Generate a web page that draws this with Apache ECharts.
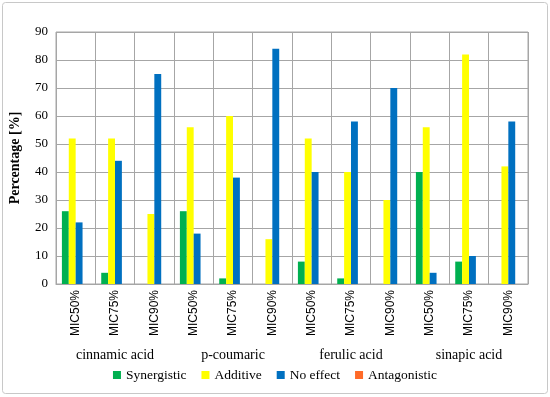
<!DOCTYPE html>
<html><head><meta charset="utf-8">
<script src="https://cdn.jsdelivr.net/npm/echarts@6/dist/echarts.min.js"></script>
<style>html,body{margin:0;padding:0;background:#fff}#c{width:550px;height:397px}</style>
</head><body><div id="c"></div>
<script>
const categories = ['MIC50%','MIC75%','MIC90%','MIC50%','MIC75%','MIC90%','MIC50%','MIC75%','MIC90%','MIC50%','MIC75%','MIC90%'];
const groups = ['cinnamic acid','p-coumaric','ferulic acid','sinapic acid'];
const synergistic = [26,4,0,26,2,0,8,2,0,40,8,0];
const additive = [52,52,25,56,60,16,52,40,30,56,82,42];
const noEffect = [22,44,75,18,38,84,40,58,70,4,10,58];
const antagonistic = [0,0,0,0,0,0,0,0,0,0,0,0];
const yTicks = {min:0,max:90,interval:10};

const serif = '"Liberation Serif","DejaVu Serif",serif';
const sans = '"Liberation Sans",Arial,sans-serif';
const gridColor = '#a6a6a6';
const chart = echarts.init(document.getElementById('c'));
function s(name,data,color){return {name,type:'bar',data,xAxisIndex:0,itemStyle:{color},barGap:'0%',barCategoryGap:'30%'};}
chart.setOption({
  animation:false,
  graphic:[{type:'rect',shape:{x:2.5,y:2.5,width:545,height:391,r:3},style:{fill:'none',stroke:'#c8c8c8',lineWidth:1}}],
  grid:{left:53,right:22,top:32,bottom:113,show:true,borderColor:gridColor,borderWidth:1},
  legend:{bottom:10,left:'center',itemWidth:8,itemHeight:8,itemGap:15,icon:'rect',
    textStyle:{fontFamily:serif,fontSize:13.5,color:'#000'},
    data:['Synergistic','Additive','No effect','Antagonistic']},
  xAxis:[
    {type:'category',data:categories,position:'bottom',
     axisLine:{lineStyle:{color:gridColor}},
     axisTick:{length:52,interval:0,lineStyle:{color:gridColor}},
     axisLabel:{rotate:90,interval:0,fontFamily:sans,fontSize:12,color:'#000',margin:6},
     splitLine:{show:true,interval:0,lineStyle:{color:gridColor}}},
    {type:'category',data:groups,position:'bottom',offset:52,
     axisLine:{show:false},
     axisTick:{length:24,interval:0,lineStyle:{color:gridColor}},
     axisLabel:{interval:0,fontFamily:serif,fontSize:14,color:'#000',margin:12},
     splitLine:{show:false}}
  ],
  yAxis:{type:'value',min:yTicks.min,max:yTicks.max,interval:yTicks.interval,
    name:'Percentage [%]',nameLocation:'middle',nameGap:34,
    nameTextStyle:{fontFamily:serif,fontSize:14,fontWeight:'bold',color:'#000'},
    axisLine:{show:false},axisTick:{show:false},
    axisLabel:{fontFamily:serif,fontSize:13,color:'#000',margin:8},
    splitLine:{lineStyle:{color:gridColor}}},
  series:[
    s('Synergistic',synergistic,'#00b050'),
    s('Additive',additive,'#ffff00'),
    s('No effect',noEffect,'#0070c0'),
    s('Antagonistic',antagonistic,'#ff6a28')
  ]
});
</script></body></html>
